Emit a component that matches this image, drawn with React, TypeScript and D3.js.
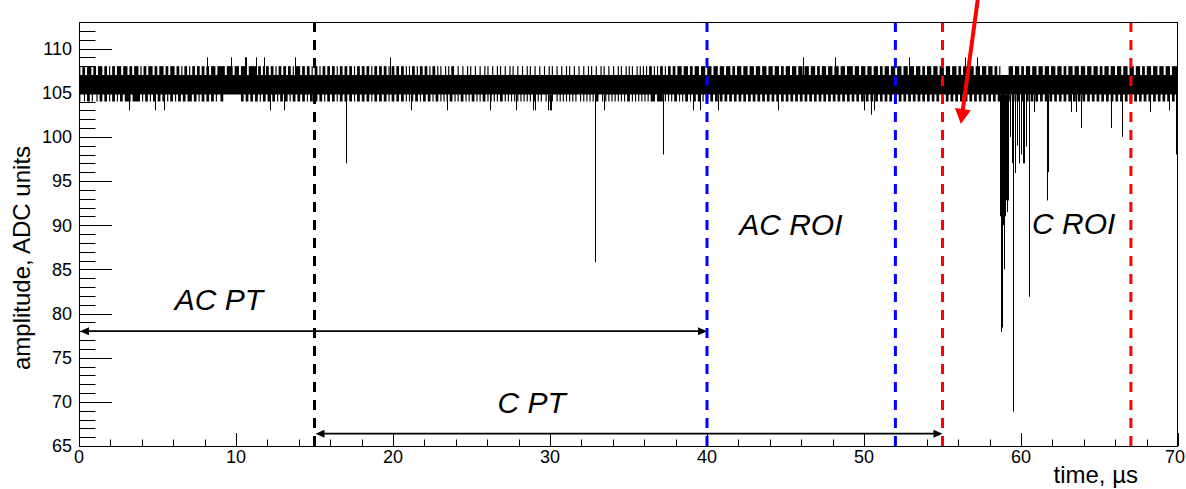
import React from 'react';
import * as d3 from 'd3';

// ---------- data ----------
const xDomain: [number, number] = [0, 70];
const yDomain: [number, number] = [65, 113];
const xMajorTicks = [0, 10, 20, 30, 40, 50, 60, 70];
const yMajorTicks = [65, 70, 75, 80, 85, 90, 95, 100, 105, 110];

// baseline noise band (solid core)
const bandTime = [0, 70];
const bandLow = [104.8, 104.8];
const bandHigh = [107, 107];

// per-0.1 µs bin: 1 = waveform reaches 108 (upper) / 104 (lower)
const binWidth = 0.1;
const upperEdge = [
  '1011011101 1011101101 0110111011 1011011101 0110111011 0111011011 1011010110',
  '1011011011 0110111011 1110111101 1101111011 1110110101 1011010110 1101101011',
  '1011011010 1101011011 0110101101 1011010110 1101101011 0110110101 1011011010',
  '1011010110 1101011010 1001010110 0100100101 0010010010 1001001010 0100101001',
  '0010010100 1001001001 0100100100 1010010010 0100101001 0010100100 1001010010',
  '1010010101 0101101010 1101011011 0111011101 1011101110 1110111011 1011101101',
  '1101110111 0111011101 1101110110 1110111011 1011101110 1101110111 0111011101',
  '1110111011 1011101110 1101110111 0111011101 1101110110 1110111011 1011101110',
  '1101110111 0111011101 1101101000 0011101110 1101110111 0111011101 1101110110',
  '1110111011 1011101110 1101110111 0111011101 1101110110 1110111011 1011101111',
];
const lowerEdge = [
  '1001011010 0101101101 0110101101 1110111110 1011010110 1101101011 0101101101',
  '1101101011 0110110100 1100000000 0001101101 1011010110 1101101011 0110101101',
  '1011010110 1101101011 0110101101 1011010110 1101101011 0110110101 1011011010',
  '1010110101 1011010110 1010101101 0101101010 1101010110 1010101011 0101010101',
  '0101010101 1010100101 0100101010 1010101001 0101010101 1001010101 0101010101',
  '1010101010 1010111011 1101010101 1010101101 0110110101 1011011011 0110110110',
  '1101101101 1011011011 0110110110 1101101101 1011011011 0110110110 1101101101',
  '1011011011 0110110110 1101101101 1011011011 0110110110 1101101101 1011011011',
  '0110110110 1101101101 1011011011 0110110110 1101101101 1011011011 0110110110',
  '1101101101 1011011011 0110110110 1101101101 1011011011 0110110110 1101101101',
];

// downward excursions (time µs, minimum ADC value)
const dipTimes = [
  3.16, 4.82, 5.41, 12.15, 13.03, 17.0, 21.13, 23.42, 26.15, 27.81, 28.89, 29.02, 29.85, 29.97,
  30.04, 32.85, 33.47, 37.2, 39.13, 39.58, 40.73, 44.55, 50.02, 50.45, 50.65,
  58.66, 58.7, 58.74, 58.78, 58.82, 58.86, 58.9, 58.96, 59.03, 59.08, 59.16, 59.3, 59.42,
  59.46, 59.63, 59.76, 59.88, 59.99, 60.13, 60.2, 60.33, 60.52,
  60.8, 61.68, 61.72, 63.17, 63.49, 63.85, 65.76, 66.46, 68.2, 69.43, 69.86,
];
const dipValues = [
  103, 103, 103, 103, 103, 97, 103, 103, 103, 103, 103, 103, 103, 103,
  103, 85.8, 103, 98, 103, 103, 103, 103, 103, 102.5, 103,
  91, 90.5, 77.9, 91.5, 78.4, 90, 85, 91, 92.8, 91.5, 92.8, 100, 97,
  68.9, 95.9, 99, 97, 98, 97, 97, 98.9, 81.9,
  102.8, 92.8, 96, 102.8, 102.8, 101, 101, 100, 102.8, 103, 98,
];
// upward excursions
const peakTimes = [8.15, 9.67, 10.56, 10.63, 11.26, 11.77, 13.75, 19.79, 46.14, 48.17, 52.88, 56.45, 57.21];
const peakValues = [109, 109, 109, 109, 109, 109, 109, 109, 109, 109, 109, 109, 109];

// dashed region boundaries
const boundaryTimes = [15, 40, 52, 55, 67];
const boundaryColors = ['#000000', '#0000ff', '#0000ff', '#ff0000', '#ff0000'];

// double-headed range arrows
const rangeNames = ['AC PT', 'C PT'];
const rangeStart = [0, 15];
const rangeEnd = [40, 55];
const rangeLevel = [78, 66.4];

// region labels (left edge time, baseline value)
const labelTexts = ['AC PT', 'C PT', 'AC ROI', 'C ROI'];
const labelTimes = [6.1, 26.65, 42.05, 60.7];
const labelValues = [80.4, 68.7, 88.9, 89.0];

// red pointer arrow (from -> to, data units)
const pointerFrom = [57.25, 115.6];
const pointerTo = [56.17, 101.45];

const xTitle = 'time, µs';
const yTitle = 'amplitude, ADC units';

// ---------- chart ----------
const W = 1186;
const H = 489;
const FONT = '"Liberation Sans", Arial, Helvetica, sans-serif';

export default function App() {
  const x = d3.scaleLinear().domain(xDomain).range([79, 1178]);
  const y = d3.scaleLinear().domain(yDomain).range([446, 22]);

  const band = d3
    .area<number>()
    .x((_, i) => x(bandTime[i]))
    .y0((_, i) => y(bandLow[i]))
    .y1((_, i) => y(bandHigh[i]))(bandTime as any) as string;

  const upBits = upperEdge.join('').replace(/\s/g, '');
  const lowBits = lowerEdge.join('').replace(/\s/g, '');
  const blocks = (bits: string) => {
    const out: [number, number][] = [];
    let i = 0;
    while (i < bits.length) {
      if (bits[i] === '1') {
        let j = i;
        while (j < bits.length && bits[j] === '1') j++;
        out.push([i * binWidth, j * binWidth]);
        i = j;
      } else i++;
    }
    return out;
  };
  const upBlocks = blocks(upBits);
  const lowBlocks = blocks(lowBits);

  let dipPath = '';
  dipTimes.forEach((t, i) => {
    const px = Math.round(x(t)) + 0.5;
    dipPath += `M${px},${y(bandLow[0])}V${y(dipValues[i])}`;
  });
  let peakPath = '';
  peakTimes.forEach((t, i) => {
    const px = Math.round(x(t)) + 0.5;
    peakPath += `M${px},${y(bandHigh[0])}V${y(peakValues[i])}`;
  });

  const [x0, x1] = x.range();
  const [yb, yt] = y.range();
  const yMinor = d3.range(yDomain[0], yDomain[1] + 0.001, 1).filter((v) => v % 5 !== 0);
  const xMinor = d3.range(xDomain[0], xDomain[1] + 0.001, 2).filter((v) => v % 10 !== 0);

  const pfx = x(pointerFrom[0]);
  const pfy = y(pointerFrom[1]);
  const ptx = x(pointerTo[0]);
  const pty = y(pointerTo[1]);
  const len = Math.hypot(ptx - pfx, pty - pfy);
  const ux = (ptx - pfx) / len;
  const uy = (pty - pfy) / len;
  const headL = 15;
  const headW = 8;
  const bx = ptx - ux * headL;
  const by = pty - uy * headL;
  const head = `M${ptx},${pty}L${bx - uy * headW},${by + ux * headW}L${bx + uy * headW},${by - ux * headW}Z`;

  const arrowHead = (tipX: number, yy: number, dir: number) =>
    `M${tipX},${yy}L${tipX - dir * 9},${yy - 4}L${tipX - dir * 9},${yy + 4}Z`;

  return (
    <svg
      width={W}
      height={H}
      style={{ position: 'absolute', left: 0, top: 0, background: '#fff' }}
      fontFamily={FONT}
    >
      <rect x={0} y={0} width={W} height={H} fill="#fff" />
      {/* waveform */}
      <path d={band} fill="#000" />
      {upBlocks.map(([a, b], i) => (
        <rect key={'u' + i} x={x(a) + 0.2} width={Math.max(1, x(b) - x(a) - 0.4)} y={y(108)} height={y(bandHigh[0]) - y(108) + 0.5} fill="#000" />
      ))}
      {lowBlocks.map(([a, b], i) => (
        <rect key={'d' + i} x={x(a) + 0.2} width={Math.max(1, x(b) - x(a) - 0.4)} y={y(bandLow[0]) - 0.5} height={y(104) - y(bandLow[0]) + 0.5} fill="#000" />
      ))}
      <path d={dipPath} stroke="#000" strokeWidth={1} fill="none" />
      <path d={peakPath} stroke="#000" strokeWidth={1} fill="none" />

      {/* dashed boundaries */}
      {boundaryTimes.map((t, i) => (
        <line
          key={'b' + i}
          x1={x(t)}
          x2={x(t)}
          y1={yt}
          y2={yb}
          stroke={boundaryColors[i]}
          strokeWidth={3}
          strokeDasharray="10 8"
        />
      ))}

      {/* range arrows */}
      {rangeNames.map((n, i) => {
        const a = x(rangeStart[i]);
        const b = x(rangeEnd[i]);
        const yy = y(rangeLevel[i]);
        return (
          <g key={'r' + n}>
            <line x1={a + 6} x2={b - 6} y1={yy} y2={yy} stroke="#000" strokeWidth={1.6} />
            <path d={arrowHead(a + 1, yy, -1)} fill="#000" />
            <path d={arrowHead(b, yy, 1)} fill="#000" />
          </g>
        );
      })}

      {/* region labels */}
      {labelTexts.map((s, i) => (
        <text
          key={'l' + i}
          x={x(labelTimes[i])}
          y={y(labelValues[i])}
          fontSize={30}
          fontStyle="italic"
          fill="#000"
        >
          {s}
        </text>
      ))}

      {/* frame */}
      <rect x={x0 + 0.5} y={yt + 0.5} width={x1 - x0 - 1} height={yb - yt} fill="none" stroke="#000" strokeWidth={1} />

      {/* y ticks */}
      {yMajorTicks.map((v) => (
        <g key={'ym' + v}>
          <line x1={x0} x2={x0 + 33} y1={Math.round(y(v)) + 0.5} y2={Math.round(y(v)) + 0.5} stroke="#000" strokeWidth={1} />
          <text x={x0 - 7} y={y(v)} dy="0.36em" textAnchor="end" fontSize={18} fill="#000">
            {v}
          </text>
        </g>
      ))}
      {yMinor.map((v) => (
        <line key={'yn' + v} x1={x0} x2={x0 + 16.5} y1={Math.round(y(v)) + 0.5} y2={Math.round(y(v)) + 0.5} stroke="#000" strokeWidth={1} />
      ))}

      {/* x ticks */}
      {xMajorTicks.map((v, i) => {
        const last = i === xMajorTicks.length - 1;
        return (
          <g key={'xm' + v}>
            <line x1={Math.round(x(v)) + 0.5} x2={Math.round(x(v)) + 0.5} y1={yb} y2={yb - 13} stroke="#000" strokeWidth={1} />
            <text x={last ? W - 1 : x(v)} y={yb + 17} textAnchor={last ? 'end' : 'middle'} fontSize={18} fill="#000">
              {v}
            </text>
          </g>
        );
      })}
      {xMinor.map((v) => (
        <line key={'xn' + v} x1={Math.round(x(v)) + 0.5} x2={Math.round(x(v)) + 0.5} y1={yb} y2={yb - 6.5} stroke="#000" strokeWidth={1} />
      ))}

      {/* axis titles */}
      <text x={1138} y={483} textAnchor="end" fontSize={24} fill="#000">
        {xTitle}
      </text>
      <text
        transform={`translate(30, ${(yt + yb) / 2 + 24}) rotate(-90)`}
        textAnchor="middle"
        fontSize={24}
        fill="#000"
      >
        {yTitle}
      </text>

      {/* red pointer */}
      <line x1={pfx} y1={pfy} x2={bx + ux * 2} y2={by + uy * 2} stroke="#ff0000" strokeWidth={4} />
      <path d={head} fill="#ff0000" />
    </svg>
  );
}
